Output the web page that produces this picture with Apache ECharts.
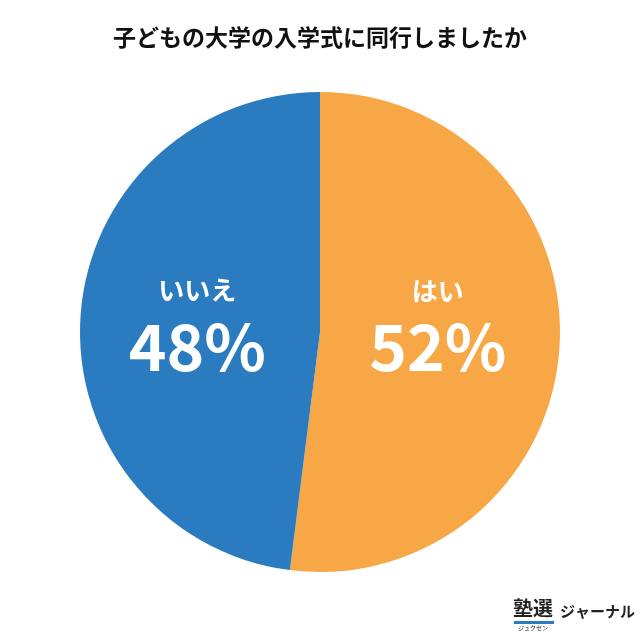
<!DOCTYPE html>
<html><head><meta charset="utf-8">
<script src="https://cdn.jsdelivr.net/npm/echarts@6/dist/echarts.min.js"></script>
<style>html,body{margin:0;padding:0;background:#fff}#c{width:640px;height:640px}</style>
</head><body><div id="c"></div>
<script>
const categories = ['はい', 'いいえ'];
const values = [52, 48];
const colors = ['#F7A745', '#2A7BBF'];
const labelOffsets = [[-5, -15], [0, 0]];
const chart = echarts.init(document.getElementById('c'));
chart.setOption({
  backgroundColor: '#fff',
  title: {
    text: '子どもの大学の入学式に同行しましたか',
    left: 'center', top: 21,
    textStyle: { fontFamily: 'Noto Sans CJK JP', fontSize: 23, fontWeight: 'bold', color: '#111' }
  },
  series: [{
    type: 'pie',
    center: [320, 332],
    radius: [0, 240],
    startAngle: 90,
    clockwise: true,
    animation: false,
    silent: true,
    data: categories.map((c, i) => ({ name: c, value: values[i], itemStyle: { color: colors[i] }, label: { offset: labelOffsets[i] } })),
    itemStyle: { borderWidth: 0 },
    label: {
      position: 'inside',
      formatter: p => '{n|' + p.name + '}\n{v|' + p.value + '%}',
      rich: {
        n: { fontFamily: 'Noto Sans CJK JP', fontSize: 26, fontWeight: 'bold', color: '#fff', lineHeight: 44 },
        v: { fontFamily: 'Noto Sans CJK JP', fontSize: 64, fontWeight: 'bold', color: '#fff', lineHeight: 68 }
      }
    },
    labelLine: { show: false }
  }],
  graphic: [
    { type: 'text', left: 513, top: 598, style: { text: '塾選', font: 'bold 20px "Noto Sans CJK JP"', fill: '#222' } },
    { type: 'rect', left: 514, top: 621, shape: { width: 40, height: 3 }, style: { fill: '#2A7BBF' } },
    { type: 'text', left: 518, top: 625, style: { text: 'ジュクセン', font: '6px "Noto Sans CJK JP"', fill: '#222' } },
    { type: 'text', left: 560, top: 604, style: { text: 'ジャーナル', font: 'bold 15px "Noto Sans CJK JP"', fill: '#222' } }
  ]
});
</script></body></html>
